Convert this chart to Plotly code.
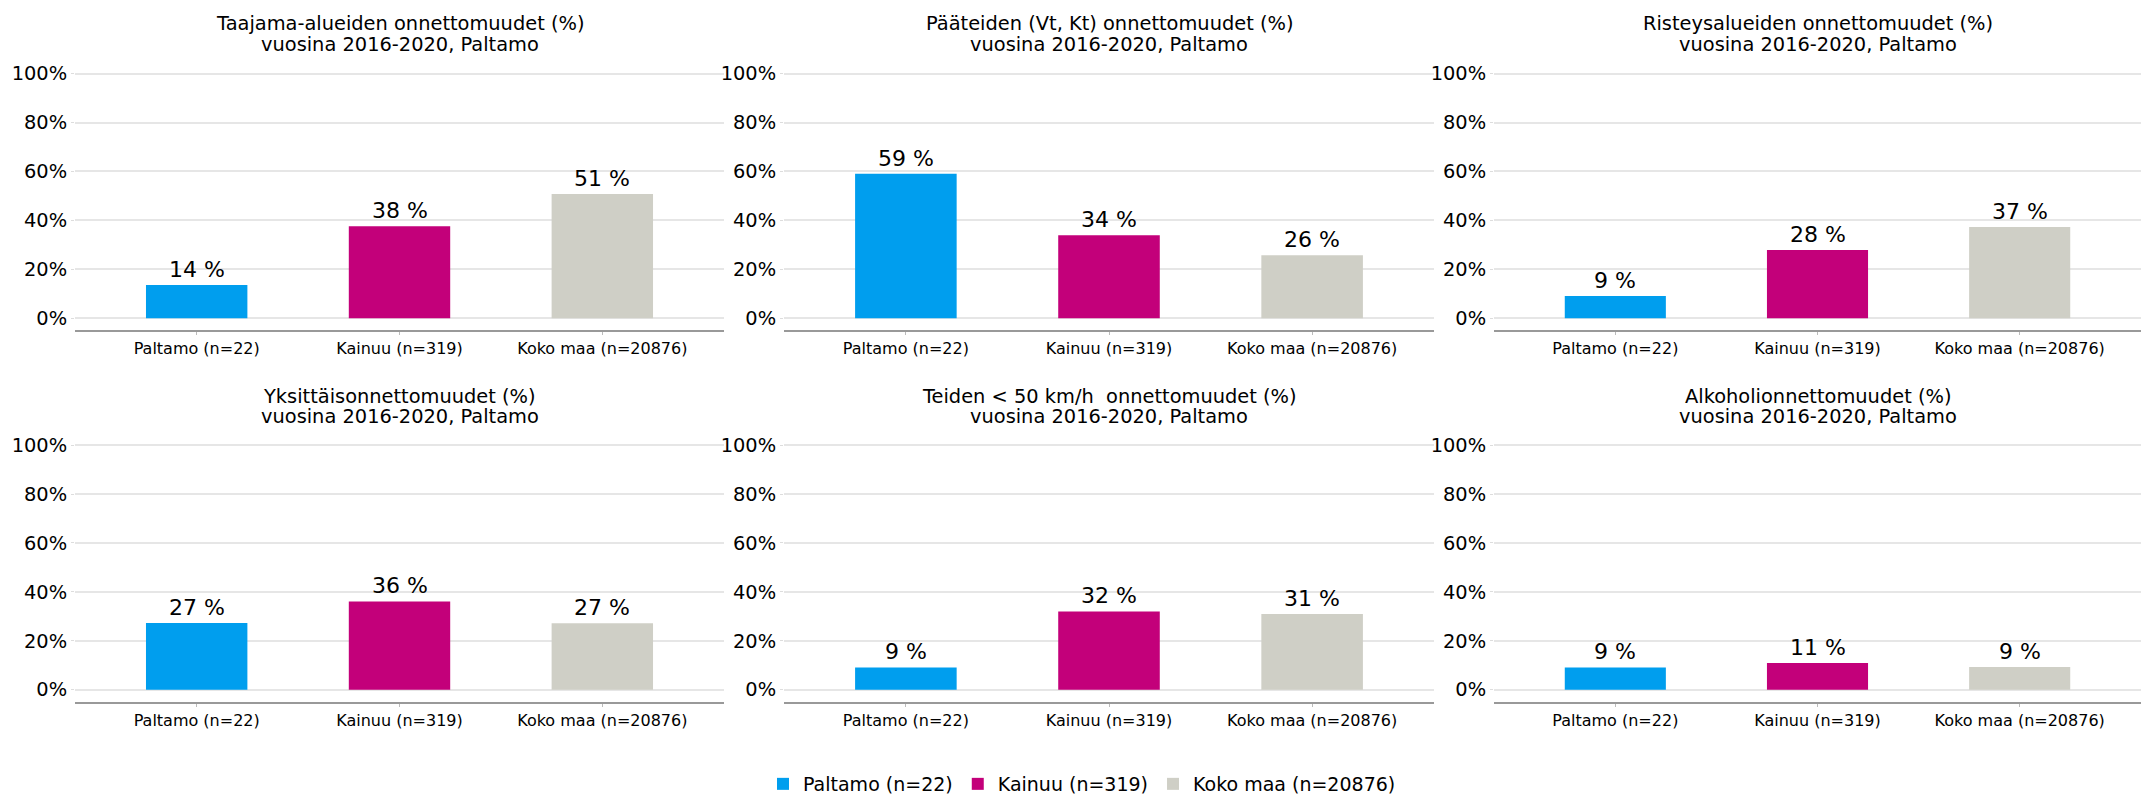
import plotly.graph_objects as go

W, H = 2141, 803
ML = 75

titles_line1 = [
    "Taajama-alueiden onnettomuudet (%)",
    "Pääteiden (Vt, Kt) onnettomuudet (%)",
    "Risteysalueiden onnettomuudet (%)",
    "Yksittäisonnettomuudet (%)",
    "Teiden < 50 km/h  onnettomuudet (%)",
    "Alkoholionnettomuudet (%)",
]
title_line2 = "vuosina 2016-2020, Paltamo"

categories = ["Paltamo (n=22)", "Kainuu (n=319)", "Koko maa (n=20876)"]
series_names = ["Paltamo (n=22)", "Kainuu (n=319)", "Koko maa (n=20876)"]

# values (%) per panel
paltamo = [13.6, 59.1, 9.1, 27.3, 9.1, 9.1]
kainuu = [37.6, 33.9, 27.9, 36.1, 32.0, 10.9]
koko_maa = [50.8, 25.7, 37.3, 27.2, 30.9, 9.3]

series_values = [paltamo, kainuu, koko_maa]
colors = ["#009EEE", "#C3007A", "#CFCFC6"]

ytick_vals = [0, 20, 40, 60, 80, 100]
ytick_text = ["0%", "20%", "40%", "60%", "80%", "100%"]

fig = go.Figure()

pw = W - ML
col_px = [(74, 724), (784, 1434), (1494, 2141)]
row_px = [(64, 329), (443, 708)]  # top, bottom pixel rows of plot areas

def px2x(p):
    return (p - ML) / pw

def px2y(p):
    return 1 - p / H

FONT = "DejaVu Sans"

for i in range(6):
    r, c = divmod(i, 3)
    idx = i + 1
    xa = "x" if idx == 1 else f"x{idx}"
    ya = "y" if idx == 1 else f"y{idx}"
    for s in range(3):
        fig.add_trace(go.Bar(
            x=[categories[s]], y=[series_values[s][i]],
            name=series_names[s], marker_color=colors[s],
            marker_line_width=0, width=0.5,
            showlegend=(i == 0), legendgroup=series_names[s],
            xaxis=xa, yaxis=ya, hoverinfo="skip",
        ))
        fig.add_annotation(
            x=categories[s], y=series_values[s][i], xref=xa, yref=ya,
            text=f"{round(series_values[s][i])} %", showarrow=False,
            xanchor="center", yanchor="bottom", yshift=1,
            font=dict(family=FONT, size=22, color="#000000"),
        )
    x0, x1 = col_px[c]
    y0, y1 = row_px[r]
    xkey = "xaxis" if idx == 1 else f"xaxis{idx}"
    ykey = "yaxis" if idx == 1 else f"yaxis{idx}"
    fig.update_layout(**{
        xkey: dict(
            domain=[max(px2x(x0), 0.0), min(px2x(x1), 1.0)], anchor=ya,
            type="category", categoryorder="array", categoryarray=categories,
            range=[-0.6, 2.6], showline=True, linecolor="#999999", linewidth=1.5,
            showgrid=False, ticks="outside", ticklen=3, tickcolor="#BBBBBB",
            tickfont=dict(family=FONT, size=16, color="#000000"),
        ),
        ykey: dict(
            domain=[px2y(y1), px2y(y0)], anchor=xa,
            range=[-5, 101.2], tickvals=ytick_vals, ticktext=ytick_text,
            showgrid=True, gridcolor="#E6E6E6", gridwidth=1.5, zeroline=False,
            showline=False, ticks="outside", ticklen=3, tickcolor="#DDDDDD",
            tickfont=dict(family=FONT, size=19.4, color="#000000"),
        ),
    })
    cx = (max(px2x(x0), 0.0) + min(px2x(x1), 1.0)) / 2
    ty = [16, 37] if r == 0 else [396, 417]
    for line, yy in ((titles_line1[i], ty[0]), (title_line2, ty[1])):
        fig.add_annotation(x=cx, y=px2y(yy), xref="paper", yref="paper",
                           text=line, showarrow=False,
                           xanchor="center", yanchor="middle",
                           font=dict(family=FONT, size=19.4, color="#000000"))

fig.update_layout(
    width=W, height=H, barmode="overlay",
    margin=dict(l=ML, r=0, t=0, b=0),
    paper_bgcolor="white", plot_bgcolor="white",
    font=dict(family=FONT, color="#000000"),
    legend=dict(orientation="h", x=px2x(1082), xanchor="center",
                y=px2y(792), yanchor="middle",
                font=dict(family=FONT, size=19, color="#000000"),
                itemwidth=30, tracegroupgap=0),
)

fig.write_html("out.html", config={"displayModeBar": False},
               post_script="document.body.style.margin='0';")
